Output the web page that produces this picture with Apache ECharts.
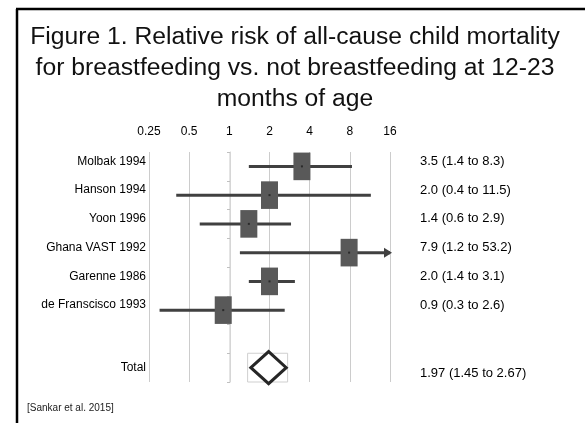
<!DOCTYPE html>
<html><head><meta charset="utf-8">
<script src="https://cdn.jsdelivr.net/npm/echarts@6/dist/echarts.min.js"></script>
<style>html,body{margin:0;padding:0;background:#fff}#c{width:585px;height:423px}</style>
</head><body><div id="c"></div>
<script>
const studies = ['Molbak 1994', 'Hanson 1994', 'Yoon 1996', 'Ghana VAST 1992', 'Garenne 1986', 'de Franscisco 1993'];
const rr = [3.5, 2.0, 1.4, 7.9, 2.0, 0.9];
const lower = [1.4, 0.4, 0.6, 1.2, 1.4, 0.3];
const upper = [8.3, 11.5, 2.9, 53.2, 3.1, 2.6];
const pooled = 1.97, pooledLower = 1.45, pooledUpper = 2.67;
const xTicks = [0.25, 0.5, 1, 2, 4, 8, 16];
const xMin = xTicks[0], xMax = xTicks[xTicks.length - 1];
const categories = studies.concat(['', 'Total']);
const totalIndex = categories.length - 1;
const ciLabels = rr.map((v, i) => `${v.toFixed(1)} (${lower[i].toFixed(1)} to ${upper[i].toFixed(1)})`)
  .concat(['', `${pooled.toFixed(2)} (${pooledLower.toFixed(2)} to ${pooledUpper.toFixed(2)})`]);

const FONT = 'Liberation Sans, Arial, sans-serif';
const chart = echarts.init(document.getElementById('c'));

const ciData = rr.map((v, i) => [lower[i], upper[i], i]);
const boxData = rr.map((v, i) => [v, i]);

chart.setOption({
  animation: false,
  textStyle: { fontFamily: FONT },
  grid: { left: 149, right: 195, top: 152, bottom: 41 },
  graphic: [
    { type: 'line', shape: { x1: 17, y1: 9, x2: 17, y2: 423 }, style: { stroke: '#000', lineWidth: 2.5 } },
    { type: 'line', shape: { x1: 16, y1: 9, x2: 585, y2: 9 }, style: { stroke: '#000', lineWidth: 2.5 } },
    { type: 'text', x: 295, y: 22, style: {
        text: 'Figure 1. Relative risk of all-cause child mortality\nfor breastfeeding vs. not breastfeeding at 12-23\nmonths of age',
        fontSize: 24.7, lineHeight: 30.7, fontFamily: FONT, fill: '#111', align: 'center', verticalAlign: 'top' } },
    { type: 'text', x: 27, y: 408, style: { text: '[Sankar et al. 2015]', fontSize: 10, fontFamily: FONT, fill: '#222', verticalAlign: 'middle' } }
  ],
  xAxis: {
    type: 'log', logBase: 2, min: xMin, max: xMax, interval: 1, position: 'top',
    axisLine: { show: false }, axisTick: { show: false },
    axisLabel: { fontSize: 12, color: '#000', margin: 14, formatter: v => String(Math.round(v * 100) / 100) },
    splitLine: { show: true, lineStyle: { color: ['#cccccc', '#cccccc', '#e4e4e4', '#cccccc', '#cccccc', '#cccccc', '#cccccc'], width: 1 } }
  },
  yAxis: [
    { type: 'category', inverse: true, data: categories, position: 'left',
      axisLine: { show: false }, axisTick: { show: false },
      axisLabel: { margin: 3, fontSize: 12, color: '#000',
        formatter: v => v === 'Total' ? '{t|Total}' : '{s|' + v + '}',
        rich: { s: { fontSize: 12, padding: [0, 0, 10, 0] }, t: { fontSize: 12 } } } },
    { type: 'category', inverse: true, data: categories, position: 'right',
      axisLine: { show: false }, axisTick: { show: false },
      axisLabel: { margin: 30, align: 'left', fontSize: 13, color: '#000',
        formatter: (v, i) => i === totalIndex ? '{t|' + ciLabels[i] + '}' : '{s|' + ciLabels[i] + '}',
        rich: { s: { fontSize: 13, padding: [0, 0, 10, 0] }, t: { fontSize: 13, padding: [12, 0, 0, 0] } } } },
    { type: 'category', inverse: true, data: categories, position: 'left', offset: -81,
      axisLine: { show: true, lineStyle: { color: '#d6d6d6', width: 1 } },
      axisTick: { show: true, length: 3, lineStyle: { color: '#c0c0c0' } },
      axisLabel: { show: false } }
  ],
  series: [
    { type: 'custom', name: 'pooledBox', yAxisIndex: 0, z: 2, clip: false,
      data: [[pooled, totalIndex]],
      renderItem: (params, api) => {
        const c = api.coord([api.value(0), api.value(1)]);
        const h = api.size([0, 1])[1];
        return { type: 'rect', shape: { x: c[0] - 21, y: c[1] - h / 2, width: 40, height: h },
          style: { fill: 'none', stroke: '#cfcfcf', lineWidth: 1 } };
      } },
    { type: 'custom', name: 'ci', yAxisIndex: 0, z: 3, clip: false,
      data: ciData,
      renderItem: (params, api) => {
        const hi = api.value(1);
        const a = api.coord([api.value(0), api.value(2)]);
        const b = api.coord([Math.min(hi, xMax), api.value(2)]);
        const children = [{ type: 'line', shape: { x1: a[0], y1: a[1], x2: b[0], y2: b[1] },
          style: { stroke: '#404040', lineWidth: 3 } }];
        if (hi > xMax) {
          children.push({ type: 'polygon', shape: { points: [[b[0] - 6, b[1] - 5], [b[0] + 2, b[1]], [b[0] - 6, b[1] + 5]] },
            style: { fill: '#404040' } });
        }
        return { type: 'group', children };
      } },
    { type: 'custom', name: 'estimate', yAxisIndex: 0, z: 4, clip: false,
      data: boxData,
      renderItem: (params, api) => {
        const c = api.coord([api.value(0), api.value(1)]);
        const h = api.size([0, 1])[1] * 0.96;
        return { type: 'group', children: [
          { type: 'rect', shape: { x: c[0] - 8.5, y: c[1] - h / 2, width: 17, height: h }, style: { fill: '#595959' } },
          { type: 'rect', shape: { x: c[0] - 1, y: c[1] - 1, width: 2, height: 2 }, style: { fill: '#2a2a2a' } }
        ] };
      } },
    { type: 'custom', name: 'pooled', yAxisIndex: 0, z: 5, clip: false,
      data: [[pooledLower, pooled, pooledUpper, totalIndex]],
      renderItem: (params, api) => {
        const l = api.coord([api.value(0), api.value(3)]);
        const m = api.coord([api.value(1), api.value(3)]);
        const r = api.coord([api.value(2), api.value(3)]);
        const hh = api.size([0, 1])[1] * 0.56;
        return { type: 'polygon', shape: { points: [[l[0], m[1]], [m[0], m[1] - hh], [r[0], m[1]], [m[0], m[1] + hh]] },
          style: { fill: '#fff', stroke: '#262626', lineWidth: 3, lineJoin: 'miter' } };
      } }
  ]
});
</script></body></html>
